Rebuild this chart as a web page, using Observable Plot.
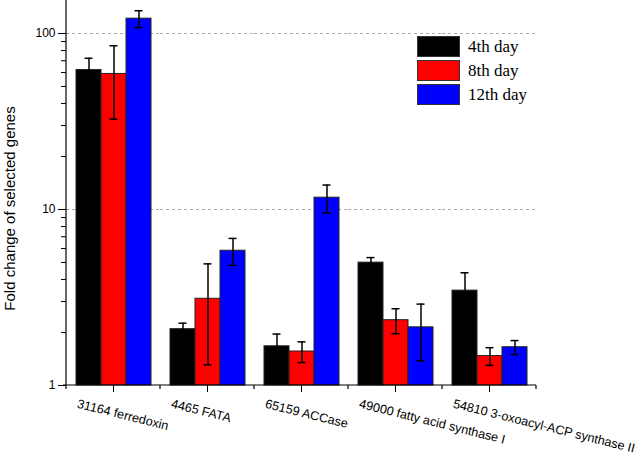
<!DOCTYPE html>
<html><head><meta charset="utf-8">
<script src="https://cdn.jsdelivr.net/npm/d3@7"></script>
<script src="https://cdn.jsdelivr.net/npm/@observablehq/plot@0.6"></script>
<style>
html,body{margin:0;padding:0;background:#fff;}
#wrap{position:relative;width:638px;height:456px;overflow:hidden;}
.legend{position:absolute;left:417px;top:36px;font-family:"Liberation Serif","Times New Roman",serif;font-size:17px;color:#000;}
.legend .row{display:flex;align-items:center;height:21px;margin-bottom:3px;}
.legend .sw{width:43px;height:21px;border:1px solid #333;box-sizing:border-box;margin-right:8px;}
</style>
</head><body>
<div id="wrap"></div>
<script>
const categories = ["31164 ferredoxin", "4465 FATA", "65159 ACCase", "49000 fatty acid synthase I", "54810 3-oxoacyl-ACP synthase II"];
const series = ["4th day", "8th day", "12th day"];
const colors = ["#000000", "#ff0000", "#0000ff"];
const day4 = [62.0, 2.09, 1.67, 4.99, 3.46];
const day4Err = [10.3, 0.17, 0.29, 0.34, 0.91];
const day8 = [58.9, 3.11, 1.56, 2.35, 1.47];
const day8Err = [26.3, 1.80, 0.21, 0.38, 0.17];
const day12 = [121.4, 5.83, 11.67, 2.14, 1.65];
const day12Err = [13.3, 1.02, 2.10, 0.76, 0.15];
const majorTicks = [1, 10, 100];
const minorTicks = [2,3,4,5,6,7,8,9,20,30,40,50,60,70,80,90];
const gridValues = [10, 100];
const yLabel = "Fold change of selected genes";

const values = [day4, day8, day12];
const errors = [day4Err, day8Err, day12Err];
const data = categories.flatMap((c, i) => series.map((s, j) => ({
  category: c, series: s, value: values[j][i], err: errors[j][i]
})));

const plot = Plot.plot({
  width: 638, height: 456,
  marginLeft: 65, marginRight: 101, marginTop: 2, marginBottom: 71,
  style: {fontFamily: "'Liberation Sans', Arial, sans-serif", fontSize: "12px", color: "#000", background: "#fff", overflow: "visible"},
  fx: {domain: categories, padding: 0, axis: null},
  x: {domain: series, paddingInner: 0, paddingOuter: 0.35, axis: null},
  y: {type: "log", domain: [1, 150], axis: null},
  color: {domain: series, range: colors},
  marks: [
    Plot.ruleY(gridValues, {stroke: "#aaaaaa", strokeDasharray: "3,3", strokeWidth: 1}),
    Plot.barY(data, {fx: "category", x: "series", y1: 1, y2: "value", fill: "series", stroke: "#222", strokeWidth: 1}),
    Plot.ruleX(data, {fx: "category", x: "series", y1: d => d.value - d.err, y2: d => d.value + d.err, stroke: "#000", strokeWidth: 1.5}),
    Plot.tickY(data, {fx: "category", x: "series", y: d => d.value + d.err, insetLeft: 8.5, insetRight: 8.5, stroke: "#000", strokeWidth: 1.5}),
    Plot.tickY(data, {fx: "category", x: "series", y: d => d.value - d.err, insetLeft: 8.5, insetRight: 8.5, stroke: "#000", strokeWidth: 1.5}),
    Plot.axisY({ticks: majorTicks, tickSize: 8, tickPadding: 3, tickFormat: d => String(d), label: null, fontSize: 12}),
    Plot.axisY({ticks: minorTicks, tickSize: 5, tickFormat: () => "", label: null}),
    Plot.axisFx({anchor: "bottom", tickSize: 7, tickFormat: () => "", label: null}),
    Plot.text(categories, {fx: d => d, text: d => d, frameAnchor: "bottom", textAnchor: "start", lineAnchor: "bottom", rotate: 14, dx: -37, dy: 22, fontSize: 12.6}),
    Plot.text([yLabel], {fx: () => categories[0], text: d => d, frameAnchor: "left", rotate: -90, textAnchor: "middle", lineAnchor: "bottom", dx: -51.7, dy: 14.5, fontSize: 15})
  ]
});

// axis lines and minor (boundary) ticks, positioned with Plot's own scales
const fxs = plot.scale("fx");
const ys = plot.scale("y");
const y0 = ys.apply(1);
const yTop = ys.apply(150);
const bounds = categories.map(c => fxs.apply(c)).concat([fxs.apply(categories[categories.length - 1]) + fxs.bandwidth]);
const g = d3.select(plot).append("g").attr("stroke", "#000").attr("stroke-width", 1.2);
g.append("line").attr("x1", bounds[0]).attr("x2", bounds[0]).attr("y1", yTop - 2).attr("y2", y0);
g.append("line").attr("x1", bounds[0] - 3).attr("x2", bounds[bounds.length - 1]).attr("y1", y0).attr("y2", y0);
bounds.forEach(b => g.append("line").attr("x1", b).attr("x2", b).attr("y1", y0).attr("y2", y0 + 4));

document.getElementById("wrap").appendChild(plot);

const legend = document.createElement("div");
legend.className = "legend";
series.forEach((s, j) => {
  const row = document.createElement("div");
  row.className = "row";
  const sw = document.createElement("div");
  sw.className = "sw";
  sw.style.background = colors[j];
  const t = document.createElement("span");
  t.textContent = s;
  row.appendChild(sw); row.appendChild(t);
  legend.appendChild(row);
});
document.getElementById("wrap").appendChild(legend);
</script>
</body></html>
